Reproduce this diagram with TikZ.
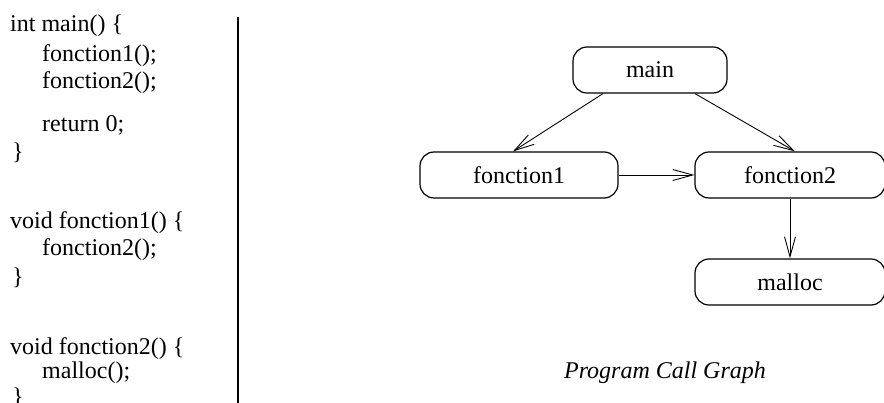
\documentclass[tikz,border=0pt]{standalone}
\usepackage{fontspec}
\setmainfont{Liberation Serif}
\usetikzlibrary{arrows.meta}
\begin{document}
\begin{tikzpicture}[x=1pt,y=-1pt,
  every node/.style={font=\fontsize{24}{28}\selectfont},
  code/.style={anchor=base west, inner sep=0pt},
  fn/.style={draw, line width=1.2pt, rounded corners=14pt, minimum height=46pt, inner sep=0pt},
  call/.style={line width=0.9pt, -{Straight Barb[length=20pt,width=11pt,line width=0.9pt]}}]
\useasboundingbox (0,0) rectangle (884,403);

% source listing
\node[code] (l1)  at (10,32)  {int main() \{};
\node[code] (l2)  at (42,62)  {fonction1();};
\node[code] (l3)  at (42,89)  {fonction2();};
\node[code] (l4)  at (42,132) {return 0;};
\node[code] (l5)  at (12,160) {\}};
\node[code] (l6)  at (10,229) {void fonction1() \{};
\node[code] (l7)  at (42,256) {fonction2();};
\node[code] (l8)  at (12,285) {\}};
\node[code] (l9)  at (10,355) {void fonction2() \{};
\node[code] (l10) at (42,378) {malloc();};
\node[code] (l11) at (12,404) {\}};

% separator
\coordinate (sepTop) at (238,17);
\coordinate (sepBot) at (238,403);
\draw[line width=2pt] (sepTop) -- (sepBot);

% call graph
\node[fn, minimum width=154pt] (main) at (650,70)  {main};
\node[fn, minimum width=198pt] (f1)   at (519,175) {fonction1};
\node[fn, minimum width=190pt] (f2)   at (790,175) {fonction2};
\node[fn, minimum width=190pt] (mal)  at (790,282) {malloc};

\draw[call] ([xshift=-47pt]main.south) -- ([xshift=-6pt]f1.north);
\draw[call] ([xshift=45pt]main.south) -- ([xshift=5pt]f2.north);
\draw[call] (f1.east) -- (f2.west);
\draw[call] (f2.south) -- (mal.north);

\node[font=\fontsize{24}{28}\selectfont\itshape] (cap) at (665,373) {Program Call Graph};
\end{tikzpicture}
\end{document}
